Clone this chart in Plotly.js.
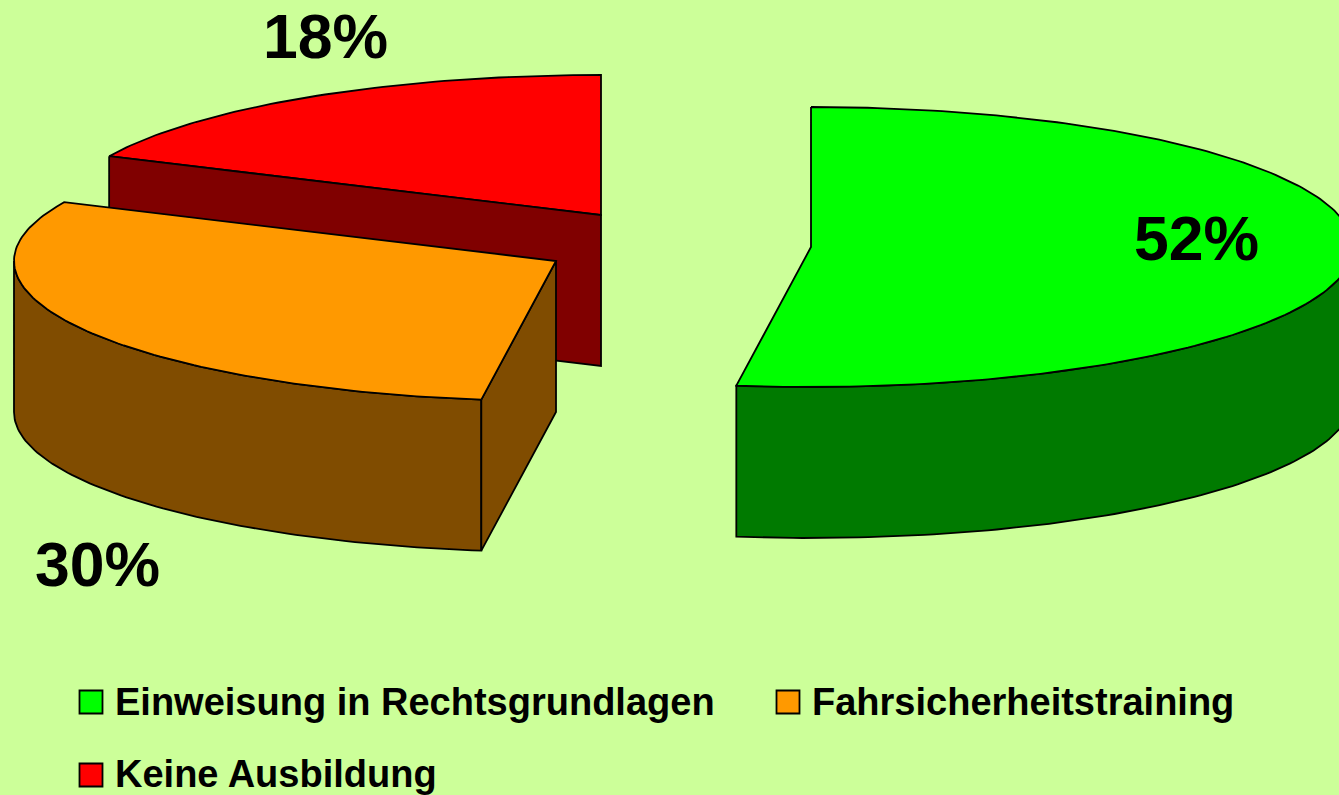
<!DOCTYPE html>
<html>
<head>
<meta charset="utf-8">
<script src="https://cdn.plot.ly/plotly-3.0.1.min.js"></script>
<style>html,body{margin:0;padding:0;background:#CCFF99;overflow:hidden}#chart{width:1339px;height:795px}</style>
</head>
<body>
<div id="chart"></div>
<script>
// Data
const categories = ["Einweisung in Rechtsgrundlagen", "Fahrsicherheitstraining", "Keine Ausbildung"];
const shares = [52.2, 29.7, 18.1];

// Styles and layout
const topColors = ["#00FF00", "#FF9900", "#FF0000"];
const sideColors = ["#007A00", "#804C00", "#800000"];
const centers = [[811, 247], [556, 261], [601, 215]];
const labelPos = [[1196, 238], [97, 564], [325, 36]];
const swatchPos = [[91, 702], [788, 702], [91, 775]];
const RX = 542, RY = 140, DEPTH = 151;

// Angles follow from the shares, clockwise from the top
const spans = [];
let acc = 0;
shares.forEach(v => { const s = acc * 3.6; acc += v; spans.push([s, acc * 3.6]); });

function pt(i, deg, drop) {
  const t = deg * Math.PI / 180, c = centers[i];
  return [c[0] + RX * Math.sin(t), c[1] - RY * Math.cos(t) + (drop || 0)];
}
function arc(i, a, b, drop) {
  const out = [], n = Math.max(2, Math.ceil(Math.abs(b - a)));
  for (let k = 0; k <= n; k++) out.push(pt(i, a + (b - a) * k / n, drop));
  return out;
}
function poly(points, fill) {
  const closed = points.concat([points[0]]);
  return {
    type: "scatter", mode: "lines", hoverinfo: "skip", showlegend: false,
    x: closed.map(p => p[0]), y: closed.map(p => p[1]),
    fill: "toself", fillcolor: fill,
    line: { color: "#000000", width: 1.8 }
  };
}
function topFace(i) {
  return poly(arc(i, spans[i][0], spans[i][1]).concat([centers[i]]), topColors[i]);
}
function cutFace(i, deg) {
  const e = pt(i, deg), c = centers[i];
  return poly([e, c, [c[0], c[1] + DEPTH], [e[0], e[1] + DEPTH]], sideColors[i]);
}
function rimFace(i, a, b) {
  return poly(arc(i, a, b).concat(arc(i, b, a, DEPTH)), sideColors[i]);
}

const traces = [
  topFace(2),
  cutFace(2, spans[2][0]),
  rimFace(1, spans[1][0], 270),
  cutFace(1, spans[1][0]),
  topFace(1),
  rimFace(0, 90, spans[0][1]),
  topFace(0)
];

// Legend swatches
categories.forEach((name, i) => traces.push({
  type: "scatter", mode: "markers", hoverinfo: "skip", showlegend: false,
  x: [swatchPos[i][0]], y: [swatchPos[i][1]],
  marker: { symbol: "square", size: 23, color: topColors[i], line: { color: "#000000", width: 1.8 } }
}));

const annotations = [];
shares.forEach((v, i) => annotations.push({
  x: labelPos[i][0], y: labelPos[i][1], xref: "x", yref: "y",
  text: "<b>" + Math.round(v) + "%</b>", showarrow: false, xanchor: "center", yanchor: "middle",
  font: { family: "Liberation Sans, Arial, sans-serif", size: 62.5, color: "#000000" }
}));
categories.forEach((name, i) => annotations.push({
  x: swatchPos[i][0] + 22, y: swatchPos[i][1] - (i === 2 ? 1 : 0), xref: "x", yref: "y",
  text: "<b>" + name + "</b>", showarrow: false, xanchor: "left", yanchor: "middle",
  font: { family: "Liberation Sans, Arial, sans-serif", size: 38, color: "#000000" }
}));

Plotly.newPlot("chart", traces, {
  width: 1339, height: 795,
  margin: { l: 0, r: 0, t: 0, b: 0, pad: 0 },
  paper_bgcolor: "#CCFF99", plot_bgcolor: "#CCFF99",
  showlegend: false,
  xaxis: { range: [0, 1339], visible: false, fixedrange: true },
  yaxis: { range: [795, 0], visible: false, fixedrange: true },
  annotations: annotations
}, { displayModeBar: false, staticPlot: true });
</script>
</body>
</html>
